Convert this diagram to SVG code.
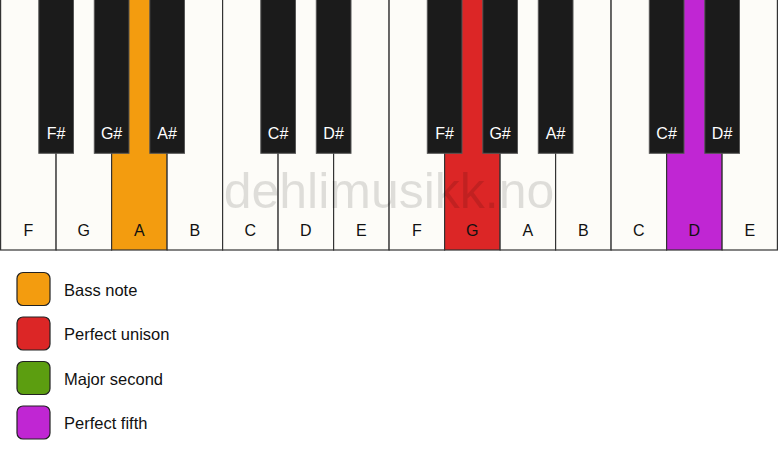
<svg xmlns="http://www.w3.org/2000/svg" width="778" height="461" viewBox="0 0 778 461">
<style>
.w{fill:#fdfcf8;stroke:#333;stroke-width:1.2}
.b{fill:#1b1b1b;stroke:#555;stroke-width:1}
.wl{font-family:"Liberation Sans",Arial,sans-serif;font-size:16px;fill:#111;text-anchor:middle}
.bl{font-family:"Liberation Sans",Arial,sans-serif;font-size:16px;fill:#fff;text-anchor:middle}
.lg{font-family:"Liberation Sans",Arial,sans-serif;font-size:16.5px;fill:#111}
.sw{stroke:#222;stroke-width:1.2}
</style>
<rect width="778" height="461" fill="#fff"/>
<g id="white-keys">
<g id="key-F1"><rect class="w" x="0.6" y="-1" width="55.5" height="251"/><text class="wl" x="28.3" y="235.5">F</text></g>
<g id="key-G1"><rect class="w" x="56.1" y="-1" width="55.5" height="251"/><text class="wl" x="83.8" y="235.5">G</text></g>
<g id="key-A1"><rect class="w" x="111.6" y="-1" width="55.5" height="251" style="fill:#f39c0f"/><text class="wl" x="139.3" y="235.5">A</text></g>
<g id="key-B1"><rect class="w" x="167.1" y="-1" width="55.5" height="251"/><text class="wl" x="194.8" y="235.5">B</text></g>
<g id="key-C1"><rect class="w" x="222.6" y="-1" width="55.5" height="251"/><text class="wl" x="250.3" y="235.5">C</text></g>
<g id="key-D1"><rect class="w" x="278.1" y="-1" width="55.5" height="251"/><text class="wl" x="305.8" y="235.5">D</text></g>
<g id="key-E1"><rect class="w" x="333.6" y="-1" width="55.5" height="251"/><text class="wl" x="361.3" y="235.5">E</text></g>
<g id="key-F2"><rect class="w" x="389.1" y="-1" width="55.5" height="251"/><text class="wl" x="416.8" y="235.5">F</text></g>
<g id="key-G2"><rect class="w" x="444.6" y="-1" width="55.5" height="251" style="fill:#dc2626"/><text class="wl" x="472.3" y="235.5">G</text></g>
<g id="key-A2"><rect class="w" x="500.1" y="-1" width="55.5" height="251"/><text class="wl" x="527.8" y="235.5">A</text></g>
<g id="key-B2"><rect class="w" x="555.6" y="-1" width="55.5" height="251"/><text class="wl" x="583.3" y="235.5">B</text></g>
<g id="key-C2"><rect class="w" x="611.1" y="-1" width="55.5" height="251"/><text class="wl" x="638.8" y="235.5">C</text></g>
<g id="key-D2"><rect class="w" x="666.6" y="-1" width="55.5" height="251" style="fill:#c026d3"/><text class="wl" x="694.3" y="235.5">D</text></g>
<g id="key-E2"><rect class="w" x="722.1" y="-1" width="55.3" height="251"/><text class="wl" x="749.8" y="235.5">E</text></g>
</g>
<g id="black-keys">
<g id="key-Fs1"><rect class="b" x="38.8" y="-1" width="34.7" height="154.3"/><text class="bl" x="56.1" y="138.5">F#</text></g>
<g id="key-Gs1"><rect class="b" x="94.3" y="-1" width="34.7" height="154.3"/><text class="bl" x="111.6" y="138.5">G#</text></g>
<g id="key-As1"><rect class="b" x="149.8" y="-1" width="34.7" height="154.3"/><text class="bl" x="167.1" y="138.5">A#</text></g>
<g id="key-Cs1"><rect class="b" x="260.8" y="-1" width="34.7" height="154.3"/><text class="bl" x="278.1" y="138.5">C#</text></g>
<g id="key-Ds1"><rect class="b" x="316.3" y="-1" width="34.7" height="154.3"/><text class="bl" x="333.6" y="138.5">D#</text></g>
<g id="key-Fs2"><rect class="b" x="427.3" y="-1" width="34.7" height="154.3"/><text class="bl" x="444.6" y="138.5">F#</text></g>
<g id="key-Gs2"><rect class="b" x="482.8" y="-1" width="34.7" height="154.3"/><text class="bl" x="500.1" y="138.5">G#</text></g>
<g id="key-As2"><rect class="b" x="538.3" y="-1" width="34.7" height="154.3"/><text class="bl" x="555.6" y="138.5">A#</text></g>
<g id="key-Cs2"><rect class="b" x="649.3" y="-1" width="34.7" height="154.3"/><text class="bl" x="666.6" y="138.5">C#</text></g>
<g id="key-Ds2"><rect class="b" x="704.8" y="-1" width="34.7" height="154.3"/><text class="bl" x="722.1" y="138.5">D#</text></g>
</g>
<text x="389" y="208" font-family="'Liberation Sans',Arial,sans-serif" font-size="50" fill="#000" fill-opacity="0.12" text-anchor="middle">dehlimusikk.no</text>
<g id="legend">
<g id="legend-bass"><rect class="sw" x="17" y="272.5" width="33" height="33" rx="6" fill="#f39c0f"/><text class="lg" x="64" y="295.5">Bass note</text></g>
<g id="legend-unison"><rect class="sw" x="17" y="317" width="33" height="33" rx="6" fill="#dc2626"/><text class="lg" x="64" y="340">Perfect unison</text></g>
<g id="legend-second"><rect class="sw" x="17" y="361.5" width="33" height="33" rx="6" fill="#5c9e10"/><text class="lg" x="64" y="384.5">Major second</text></g>
<g id="legend-fifth"><rect class="sw" x="17" y="406" width="33" height="33" rx="6" fill="#c026d3"/><text class="lg" x="64" y="429">Perfect fifth</text></g>
</g>
</svg>
